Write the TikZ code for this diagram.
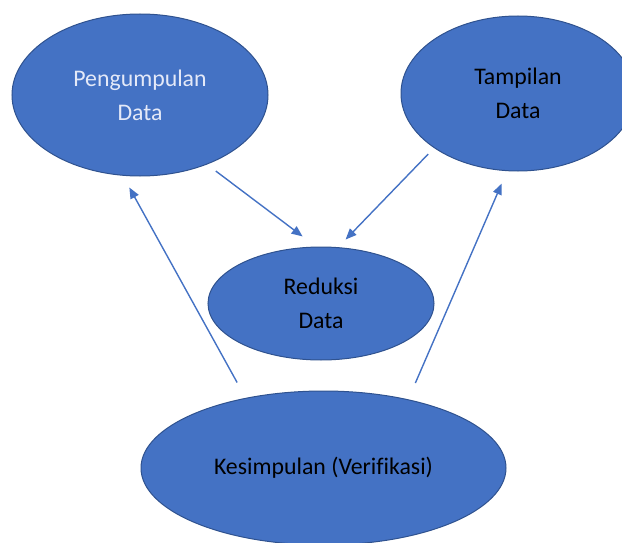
\documentclass[tikz,border=0pt]{standalone}
\usepackage{fontspec}
\setmainfont{Carlito}[Ligatures=NoCommon]
\usetikzlibrary{shapes.geometric,arrows.meta}
\definecolor{fillblue}{HTML}{4472C4}
\definecolor{edgeblue}{HTML}{2F528F}
\definecolor{lighttext}{HTML}{E4E9F8}
\tikzset{
  bubble/.style={ellipse, draw=edgeblue, line width=1pt, fill=fillblue, inner sep=0pt,
    align=center, font=\fontsize{23.8}{34}\selectfont, text=black},
  arr/.style={draw=fillblue, line width=1.4pt, -{Triangle[length=11pt,width=9pt]}}
}
\begin{document}
\begin{tikzpicture}[x=1pt,y=-1pt]
\useasboundingbox (0,0) rectangle (622,543);
\begin{scope}
\clip (0,0) rectangle (622,543);
\node[bubble, minimum width=256pt, minimum height=162pt, text=lighttext] (peng) at (140,95) {Pengumpulan\\Data};
\node[bubble, minimum width=234pt, minimum height=155pt] (tamp) at (518,93.5) {Tampilan\\Data};
\node[bubble, minimum width=226pt, minimum height=113pt] (red) at (321,303.5) {Reduksi\\Data};
\node[bubble, minimum width=365pt, minimum height=154pt] (kes) at (323.5,468) {Kesimpulan (Verifikasi)};
\end{scope}
\draw[arr, shorten <=10.9pt, shorten >=16.8pt] (peng.-46.8) -- (red.95.6);
\draw[arr, shorten <=8.4pt, shorten >=10.6pt] (tamp.213.3) -- (red.73.5);
\draw[arr, shorten <=17.6pt, shorten >=13.4pt] (kes.138.3) -- (peng.-102.3);
\draw[arr, shorten <=17.8pt, shorten >=13.5pt] (kes.39.9) -- (tamp.-98.6);
\end{tikzpicture}
\end{document}
